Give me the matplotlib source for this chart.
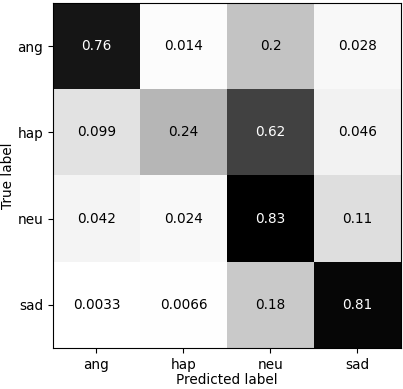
import numpy as np
import matplotlib
matplotlib.use("Agg")
import matplotlib.pyplot as plt

labels = ["ang", "hap", "neu", "sad"]
row_ang = [0.76, 0.014, 0.2, 0.028]
row_hap = [0.099, 0.24, 0.62, 0.046]
row_neu = [0.042, 0.024, 0.83, 0.11]
row_sad = [0.0033, 0.0066, 0.18, 0.81]

cm = np.array([row_ang, row_hap, row_neu, row_sad])

fig = plt.figure(figsize=(4.03, 3.89), dpi=100)
ax = fig.add_axes([0.1315, 0.1054, 0.8635, 0.8866])
im = ax.imshow(cm, cmap="gray_r", interpolation="nearest", aspect="auto")

seuil = (cm.max() + cm.min()) / 2
for i in range(cm.shape[0]):
    for j in range(cm.shape[1]):
        couleur = "white" if cm[i, j] > seuil else "black"
        ax.text(j, i, format(cm[i, j], ".2g"), ha="center", va="center",
                color=couleur, fontsize=9.8)

ax.set_xticks(range(len(labels)))
ax.set_xticklabels(labels, fontsize=9.8)
ax.set_yticks(range(len(labels)))
ax.set_yticklabels(labels, fontsize=9.8)
ax.set_xlabel("Predicted label", fontsize=9.8, labelpad=1)
ax.set_ylabel("True label", fontsize=9.8, labelpad=2)

fig.savefig("out.png", dpi=100)
